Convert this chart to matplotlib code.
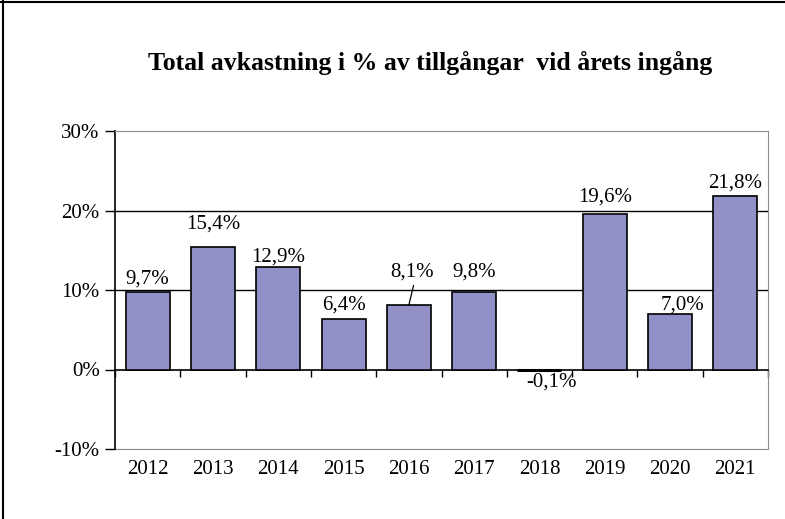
import matplotlib
matplotlib.use("Agg")
import matplotlib.pyplot as plt
from matplotlib.lines import Line2D
from matplotlib.ticker import FuncFormatter, FixedLocator
import numpy as np

years = ["2012", "2013", "2014", "2015", "2016", "2017", "2018", "2019", "2020", "2021"]
returns = [9.7, 15.4, 12.9, 6.4, 8.1, 9.8, -0.1, 19.6, 7.0, 21.8]
y_ticks = [-10, 0, 10, 20, 30]

title = "Total avkastning i % av tillgångar  vid årets ingång"

plt.rcParams['font.family'] = ['Liberation Serif', 'DejaVu Serif']
FS = 15

fig = plt.figure(figsize=(7.85, 5.19), dpi=100)
ax = fig.add_axes([115 / 785, 1 - 449 / 519, (768 - 115) / 785, (449 - 131) / 519])

x = np.arange(len(years))
bars = ax.bar(x, returns, width=0.675, color='#9191c8', edgecolor='black',
              linewidth=1.2, zorder=5)
# tiny negative bar shows as a thick dark stroke in the original
for b, v in zip(bars, returns):
    if abs(v) < 0.5:
        b.set_linewidth(2.2)

# gridlines (black) behind bars
for t in y_ticks[2:-1]:
    ax.axhline(t, color='black', linewidth=1.0, zorder=1)

ax.set_xlim(-0.5, len(years) - 0.5)
ax.set_ylim(y_ticks[0], y_ticks[-1])

# y axis
ax.yaxis.set_major_locator(FixedLocator(y_ticks))
ax.yaxis.set_major_formatter(FuncFormatter(lambda v, p: f"{v:.0f}%"))
ax.tick_params(axis='y', direction='out', length=7, width=1, labelsize=FS, pad=4)

# category axis through zero with ticks between categories
ax.spines['bottom'].set_position(('data', 0))
ax.spines['bottom'].set_color('black')
ax.spines['bottom'].set_linewidth(1.2)
ax.spines['bottom'].set_zorder(4)
ax.set_xticks(np.arange(len(years) + 1) - 0.5)
ax.tick_params(axis='x', direction='out', length=5, width=1, labelbottom=False)

for s in ['top', 'right']:
    ax.spines[s].set_color('#8c8c8c')
ax.spines['left'].set_color('black')
ax.spines['left'].set_linewidth(1.2)

# year labels under the plot area
sec = ax.secondary_xaxis('bottom')
sec.set_xticks(x)
sec.set_xticklabels(years)
sec.tick_params(length=0, labelsize=FS, pad=8)
sec.spines['bottom'].set_color('#8c8c8c')

# value labels: offsets (points) of label centre from bar end
offsets = [(0, 9.4), (0, 16.6), (0, 7.2), (0, 10), (2.5, 24), (0, 14.4),
           (8.6, -8.6), (0, 12.2), (9, 6.5), (0, 9.4)]
for xi, v, off in zip(x, returns, offsets):
    lbl = f"{v:.1f}%".replace('.', ',')
    kw = dict(xytext=off, textcoords='offset points', ha='center', va='center',
              fontsize=FS, zorder=6)
    if off[1] > 20:
        kw['arrowprops'] = dict(arrowstyle='-', color='black', lw=0.9,
                                shrinkA=1, shrinkB=0, relpos=(0.55, 0.0))
    ax.annotate(lbl, (xi, v), **kw)

fig.text(430 / 785, 1 - 63 / 519, title, ha='center', va='center',
         fontsize=18.5, fontweight='bold')

# outer frame (left and top visible)
fig.add_artist(Line2D([2.5 / 785, 2.5 / 785], [0, 1], color='black', lw=1.5))
fig.add_artist(Line2D([0, 1], [1 - 1.5 / 519, 1 - 1.5 / 519], color='black', lw=1.5))

fig.savefig("out.png", dpi=100)
